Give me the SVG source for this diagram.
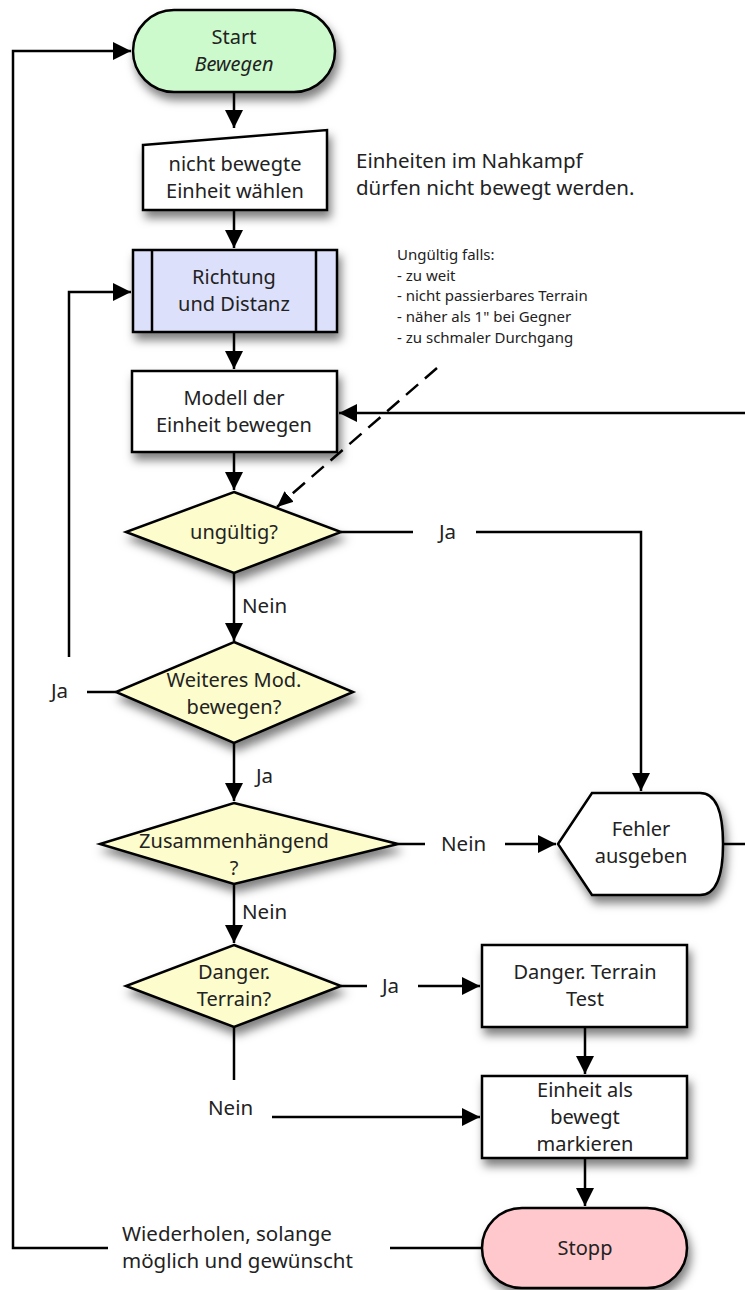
<svg xmlns="http://www.w3.org/2000/svg" width="745" height="1290" viewBox="0 0 745 1290">
<defs>
<style>
.t{font-family:"Noto Sans","Open Sans",sans-serif;font-size:20px;fill:#222;text-anchor:middle}
.l{font-family:"Noto Sans","Open Sans",sans-serif;font-size:20.5px;fill:#222}
.s{font-family:"Noto Sans","Open Sans",sans-serif;font-size:15px;fill:#222}
.n{stroke:#000;stroke-width:2.5}
.c{fill:none;stroke:#000;stroke-width:2.5}
</style>
<filter id="sh" x="-20%" y="-20%" width="150%" height="160%">
<feDropShadow dx="3" dy="7" stdDeviation="5" flood-color="#000" flood-opacity="0.5"/>
</filter>
<marker id="a" markerUnits="userSpaceOnUse" markerWidth="20" markerHeight="18" refX="18" refY="9" orient="auto">
<path d="M0,0 L18,9 L0,18 z" fill="#000"/>
</marker>
<marker id="as" markerUnits="userSpaceOnUse" markerWidth="18" markerHeight="16" refX="16" refY="8" orient="auto">
<path d="M0,1 L16,8 L0,15 z" fill="#000"/>
</marker>
</defs>
<rect width="745" height="1290" fill="#fff"/>

<g id="connectors">
<path class="c" d="M234,92 V128" marker-end="url(#a)"/>
<path class="c" d="M234,210 V248" marker-end="url(#a)"/>
<path class="c" d="M234,332 V369" marker-end="url(#a)"/>
<path class="c" d="M234,452 V490" marker-end="url(#a)"/>
<path class="c" d="M234,573 V641" marker-end="url(#a)"/>
<path class="c" d="M234,743 V801" marker-end="url(#a)"/>
<path class="c" d="M234,884 V943" marker-end="url(#a)"/>
<path class="c" d="M234,1027 V1080"/>
<path class="c" d="M585,1027 V1074" marker-end="url(#a)"/>
<path class="c" d="M585,1158 V1206" marker-end="url(#a)"/>
<path class="c" d="M745,413 H339" marker-end="url(#a)"/>
<path class="c" d="M437,368 L277,507" stroke-dasharray="16,9" marker-end="url(#as)"/>
<path class="c" d="M341,532 H413"/>
<path class="c" d="M476,532 H641 V791" marker-end="url(#a)"/>
<path class="c" d="M116,692 H87"/>
<path class="c" d="M69,657 V292 H131" marker-end="url(#a)"/>
<path class="c" d="M398,844 H425"/>
<path class="c" d="M505,844 H556" marker-end="url(#a)"/>
<path class="c" d="M723,844 H745"/>
<path class="c" d="M341,986 H367"/>
<path class="c" d="M418,986 H480" marker-end="url(#a)"/>
<path class="c" d="M272,1117 H480" marker-end="url(#a)"/>
<path class="c" d="M108,1248 H13 V51 H131" marker-end="url(#a)"/>
<path class="c" d="M390,1248 H484"/>
<text class="l" x="242" y="613">Nein</text>
<text class="l" x="51" y="698">Ja</text>
<text class="l" x="256" y="783">Ja</text>
<text class="l" x="242" y="919">Nein</text>
<text class="l" x="439" y="539">Ja</text>
<text class="l" x="441" y="851">Nein</text>
<text class="l" x="382" y="993">Ja</text>
<text class="l" x="208" y="1115">Nein</text>
<text class="l" x="122" y="1241">Wiederholen, solange</text>
<text class="l" x="122" y="1268">möglich und gewünscht</text>
</g>

<g id="start">
<rect class="n" x="133" y="10" width="202" height="82" rx="41" fill="#ccfacc" filter="url(#sh)"/>
<text class="t" x="234" y="44">Start</text>
<text class="t" x="234" y="71" font-style="italic">Bewegen</text>
</g>

<g id="waehlen">
<path class="n" d="M143,145 L327,130 V210 H143 Z" fill="#fff" filter="url(#sh)"/>
<text class="t" x="235" y="171">nicht bewegte</text>
<text class="t" x="235" y="198">Einheit wählen</text>
</g>

<g id="richtung">
<rect class="n" x="133" y="250" width="204" height="82" fill="#dde0fa" filter="url(#sh)"/>
<path class="n" d="M152,250 V332 M316,250 V332" fill="none"/>
<text class="t" x="234" y="284">Richtung</text>
<text class="t" x="234" y="311">und Distanz</text>
</g>

<g id="modell">
<rect class="n" x="132" y="371" width="205" height="81" fill="#fff" filter="url(#sh)"/>
<text class="t" x="234" y="405">Modell der</text>
<text class="t" x="234" y="432">Einheit bewegen</text>
</g>

<g id="ungueltig">
<path class="n" d="M234,492 L341,532 L234,573 L126,532 Z" fill="#fcfccc" filter="url(#sh)"/>
<text class="t" x="234" y="539">ungültig?</text>
</g>

<g id="weiteres">
<path class="n" d="M234,642 L353,692 L234,743 L116,692 Z" fill="#fcfccc" filter="url(#sh)"/>
<text class="t" x="234" y="687">Weiteres Mod.</text>
<text class="t" x="234" y="714">bewegen?</text>
</g>

<g id="zusammen">
<path class="n" d="M234,803 L398,844 L234,884 L100,844 Z" fill="#fcfccc" filter="url(#sh)"/>
<text class="t" x="234" y="848">Zusammenhängend</text>
<text class="t" x="234" y="875">?</text>
</g>

<g id="danger">
<path class="n" d="M234,945 L341,986 L234,1027 L126,986 Z" fill="#fcfccc" filter="url(#sh)"/>
<text class="t" x="234" y="979">Danger.</text>
<text class="t" x="234" y="1006">Terrain?</text>
</g>

<g id="fehler">
<path class="n" d="M558,844 L592,793 H700 Q723,793 723,844 Q723,895 700,895 H592 Z" fill="#fff" filter="url(#sh)"/>
<text class="t" x="641" y="836">Fehler</text>
<text class="t" x="641" y="863">ausgeben</text>
</g>

<g id="dtest">
<rect class="n" x="482" y="945" width="205" height="82" fill="#fff" filter="url(#sh)"/>
<text class="t" x="585" y="979">Danger. Terrain</text>
<text class="t" x="585" y="1006">Test</text>
</g>

<g id="markieren">
<rect class="n" x="482" y="1076" width="205" height="82" fill="#fff" filter="url(#sh)"/>
<text class="t" x="585" y="1097">Einheit als</text>
<text class="t" x="585" y="1124">bewegt</text>
<text class="t" x="585" y="1151">markieren</text>
</g>

<g id="stopp">
<rect class="n" x="482" y="1208" width="205" height="80" rx="40" fill="#ffc8cc" filter="url(#sh)"/>
<text class="t" x="585" y="1255">Stopp</text>
</g>

<g id="notes">
<text class="l" x="356" y="168">Einheiten im Nahkampf</text>
<text class="l" x="356" y="195">dürfen nicht bewegt werden.</text>
<text class="s" x="397" y="260">Ungültig falls:</text>
<text class="s" x="397" y="281">- zu weit</text>
<text class="s" x="397" y="301">- nicht passierbares Terrain</text>
<text class="s" x="397" y="322">- näher als 1" bei Gegner</text>
<text class="s" x="397" y="343">- zu schmaler Durchgang</text>
</g>
</svg>
